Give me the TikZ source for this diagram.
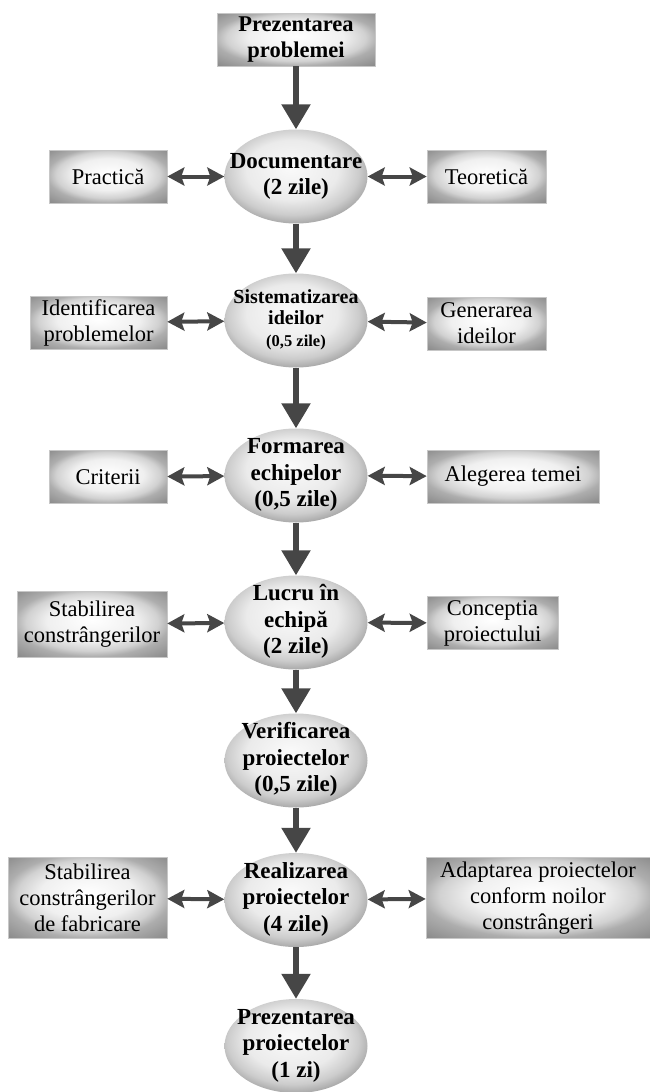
\documentclass[tikz,border=0pt]{standalone}
\usepackage{fontspec}
\setmainfont{Liberation Serif}
\usetikzlibrary{shapes.geometric,arrows.meta}
\definecolor{arrowgray}{RGB}{70,70,70}
\pgfdeclareradialshading{boxshade}{\pgfpoint{0bp}{3bp}}{color(0bp)=(black!0); color(15bp)=(black!6); color(22bp)=(black!18); color(26bp)=(black!32); color(35bp)=(black!45); color(50bp)=(black!45)}
\pgfdeclareradialshading{ellshade}{\pgfpoint{-2bp}{5bp}}{color(0bp)=(black!2); color(16bp)=(black!8); color(23bp)=(black!20); color(28bp)=(black!36); color(50bp)=(black!40)}
\newcommand{\inell}[1]{\makebox[0pt]{\smash{\raisebox{-.25em}{\begin{tabular}{@{}c@{}}#1\end{tabular}}}}}

\begin{document}
\begin{tikzpicture}[x=1pt,y=-1pt]

%
% Styles
%
\tikzstyle{stage} = [ellipse,minimum width=143pt,minimum height=94pt,inner sep=0pt,
                     shading=ellshade,
                     font=\bfseries\fontsize{23}{26.5}\selectfont]
\tikzstyle{side}  = [rectangle,draw=black!22,line width=.6pt,inner sep=0pt,
                     shading=boxshade,
                     minimum height=53pt,align=center,
                     font=\fontsize{22.5}{26}\selectfont]
\tikzstyle{flow}  = [arrowgray,line width=5.5pt,-{Triangle[length=25pt,width=28pt]}]
\tikzstyle{link}  = [arrowgray,line width=4pt,
                     {Stealth[length=17pt,width=18pt,inset=3pt]}-{Stealth[length=17pt,width=18pt,inset=3pt]}]

\useasboundingbox (0,0) rectangle (649,1092);

% main line
\node[side,minimum width=158pt,font=\bfseries\fontsize{22.5}{26}\selectfont]
      (prob)  at (296,  39.5) {Prezentarea\\problemei};
\node[stage] (doc)   at (296, 176.5) {\inell{Documentare\\(2 zile)}};
\node[stage,font=\bfseries\fontsize{20}{21.5}\selectfont]
      (sist)  at (296, 320.5) {\inell{Sistematizarea\\ideilor\\{\fontsize{16.5}{19}\selectfont(0,5 zile)}}};
\node[stage] (form)  at (296, 475.5) {\inell{Formarea\\echipelor\\(0,5 zile)}};
\node[stage] (lucru) at (296, 622.5) {\inell{Lucru în\\echipă\\(2 zile)}};
\node[stage] (verif) at (296, 760.5) {\inell{Verificarea\\proiectelor\\(0,5 zile)}};
\node[stage] (real)  at (296, 900)   {\inell{Realizarea\\proiectelor\\(4 zile)}};
\node[stage] (prez)  at (296,1046)   {\inell{Prezentarea\\proiectelor\\(1 zi)}};

% side boxes
\node[side,minimum width=118pt] (practica)  at (108,  176.5) {Practică};
\node[side,minimum width=119pt] (teoretica) at (486.5,176.5) {Teoretică};
\node[side,minimum width=137pt] (identif)   at ( 98.5,322.5) {Identificarea\\problemelor};
\node[side,minimum width=119pt] (generare)  at (486.5,323.5) {Generarea\\ideilor};
\node[side,minimum width=118pt] (criterii)  at (108,  477)   {Criterii};
\node[side,minimum width=172pt] (tema)      at (513,  476.5) {Alegerea temei};
\node[side,minimum width=150pt,minimum height=66pt]
      (constr)    at ( 92,  624)   {Stabilirea\\constrângerilor};
\node[side,minimum width=131pt] (conceptia) at (492.5,623)   {Conceptia\\proiectului};
\node[side,minimum width=159pt,minimum height=81pt]
      (fabric)    at ( 87.5,898)   {Stabilirea\\constrângerilor\\de fabricare};
\node[side,minimum width=224pt,minimum height=81pt]
      (adapt)     at (538,  898)   {Adaptarea proiectelor\\conform noilor\\constrângeri};

\draw[flow] (prob)  -- (doc);
\draw[flow] (doc)   -- (sist);
\draw[flow] (sist)  -- (form);
\draw[flow] (form)  -- (lucru);
\draw[flow] (lucru) -- (verif);
\draw[flow] (verif) -- (real);
\draw[flow] (real)  -- (prez);

\draw[link] (practica)  -- (doc);
\draw[link] (doc)       -- (teoretica);
\draw[link] (identif)   -- (sist);
\draw[link] (sist)      -- (generare);
\draw[link] (criterii)  -- (form);
\draw[link] (form)      -- (tema);
\draw[link] (constr)    -- (lucru);
\draw[link] (lucru)     -- (conceptia);
\draw[link] (fabric)    -- (real);
\draw[link] (real)      -- (adapt);

\end{tikzpicture}
\end{document}
